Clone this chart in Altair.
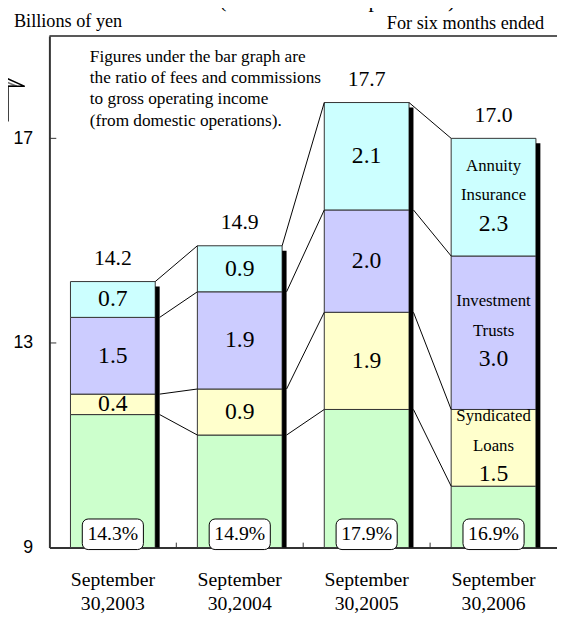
import altair as alt
import pandas as pd

# ---------------- data ----------------
date_line1 = ["September", "September", "September", "September"]
date_line2 = ["30,2003", "30,2004", "30,2005", "30,2006"]
segment_names = ["Other fees", "Syndicated Loans", "Investment Trusts", "Annuity Insurance"]
other_fees = [11.6, 11.2, 11.7, 10.2]
syndicated_loans = [0.4, 0.9, 1.9, 1.5]
investment_trusts = [1.5, 1.9, 2.0, 3.0]
annuity_insurance = [0.7, 0.9, 2.1, 2.3]
totals = [14.2, 14.9, 17.7, 17.0]
fee_ratios = ["14.3%", "14.9%", "17.9%", "16.9%"]
segment_colors = ["#CCFFCC", "#FFFFCC", "#CCCCFF", "#CCFFFF"]
name_line1 = ["", "Syndicated", "Investment", "Annuity"]
name_line2 = ["", "Loans", "Trusts", "Insurance"]
y_ticks = [9, 13, 17]
note_lines = [
    "Figures under the bar graph are",
    "the ratio of fees and commissions",
    "to gross operating income",
    "\u00a0(from domestic operations).",
]
unit_label = "Billions of yen"
period_label = "For six months ended"
top_title = "(from domestic operations)"

# ---------------- layout ----------------
W, H = 515, 519
Y_MIN, Y_MAX = 9, 19
X_MAX = 4
ux = W / X_MAX
uy = H / (Y_MAX - Y_MIN)
BAR_HALF = 43 / ux
SHADOW_W = 4.5 / ux
SHADOW_DROP = 5 / uy
SERIF = "Liberation Serif"
SANS = "Liberation Sans"

xs = alt.Scale(domain=[0, X_MAX], nice=False, zero=False)
ys = alt.Scale(domain=[Y_MIN, Y_MAX], nice=False, zero=False)
x_axis = alt.Axis(labels=False, ticks=False, tickSize=0, grid=False, title=None,
                  domainColor="#333333", domainWidth=2)
y_axis = alt.Axis(values=y_ticks, ticks=False, tickSize=0, grid=False, title=None,
                  labelPadding=17, labelFont=SANS, labelFontSize=18, labelColor="black",
                  domainColor="#333333", domainWidth=2)


def X(f):
    return alt.X(f, type="quantitative", scale=xs, axis=x_axis)


def Y(f):
    return alt.Y(f, type="quantitative", scale=ys, axis=y_axis)


series = [other_fees, syndicated_loans, investment_trusts, annuity_insurance]
n = len(totals)

seg_rows, lab_rows, tops = [], [], []
for i in range(n):
    c = i + 0.5
    base = 0.0
    bounds = []
    for j, s in enumerate(series):
        lo, hi = base, base + s[i]
        base = hi
        bounds.append(hi)
        seg_rows.append(dict(x=c - BAR_HALF, x2=c + BAR_HALF, y=max(lo, Y_MIN), y2=hi,
                             seg=segment_names[j]))
        if j > 0:
            lab_rows.append(dict(c=c, mid=(max(lo, Y_MIN) + hi) / 2, val=f"{s[i]:.1f}",
                                 n1=name_line1[j], n2=name_line2[j], last=(i == n - 1)))
    tops.append(bounds)
seg_df = pd.DataFrame(seg_rows)
lab_df = pd.DataFrame(lab_rows)
lab_plain = lab_df[~lab_df["last"]]
lab_last = lab_df[lab_df["last"]]

cat_df = pd.DataFrame(dict(c=[i + 0.5 for i in range(n)], total=totals,
                           totlab=[f"{t:.1f}" for t in totals], ratio=fee_ratios,
                           l1=date_line1, l2=date_line2))
cat_df["sx"] = cat_df["c"] + BAR_HALF
cat_df["sx2"] = cat_df["c"] + BAR_HALF + SHADOW_W
cat_df["sy"] = cat_df["total"] - SHADOW_DROP
cat_df["sy2"] = Y_MIN
cat_df["bx"] = cat_df["c"] - 31 / ux
cat_df["bx2"] = cat_df["c"] + 31 / ux
cat_df["by"] = Y_MIN - 2 / uy
cat_df["by2"] = Y_MIN + 29 / uy
cat_df["ty"] = Y_MIN + 14 / uy

con_rows = []
for i in range(n - 1):
    for j in range(len(series)):
        start = (i + 0.5 + BAR_HALF) + (0 if j == len(series) - 1 else SHADOW_W)
        con_rows.append(dict(x=start, x2=i + 1.5 - BAR_HALF, y=tops[i][j], y2=tops[i + 1][j]))
con_df = pd.DataFrame(con_rows)

ytick_df = pd.DataFrame(dict(y=[v for v in y_ticks if v > Y_MIN], x=0.0, x2=7 / ux))
xtick_df = pd.DataFrame(dict(x=list(range(1, n)), y=Y_MIN, y2=Y_MIN + 5 / uy))
frame_df = pd.DataFrame(dict(x=[0], x2=[X_MAX], y=[Y_MAX]))

# decorative outline arrow at the left edge (pixel offsets from plot origin)
arrow_px = [(-50, 40), (-25, 51), (-42, 51), (-42, 86), (-50, 86)]
arrow_df = pd.DataFrame(dict(x=[p[0] / ux for p in arrow_px],
                             y=[Y_MAX - p[1] / uy for p in arrow_px],
                             o=list(range(len(arrow_px)))))
arrow2_px = [(-50, 44), (-33, 51), (-46, 51), (-46, 83), (-50, 83)]
arrow2_df = pd.DataFrame(dict(x=[p[0] / ux for p in arrow2_px],
                              y=[Y_MAX - p[1] / uy for p in arrow2_px],
                              o=list(range(len(arrow2_px)))))

one = pd.DataFrame(dict(k=[0]))

# ---------------- layers ----------------
bars = alt.Chart(seg_df).mark_rect(stroke="#333333", strokeWidth=1).encode(
    x=X("x"), x2="x2", y=Y("y"), y2="y2",
    fill=alt.Fill("seg:N", scale=alt.Scale(domain=segment_names, range=segment_colors), legend=None),
)

shadows = alt.Chart(cat_df).mark_rect(color="black").encode(
    x=X("sx"), x2="sx2", y=Y("sy"), y2="sy2")

connectors = alt.Chart(con_df).mark_rule(color="black", strokeWidth=1).encode(
    x=X("x"), x2="x2", y=Y("y"), y2="y2")

yticks = alt.Chart(ytick_df).mark_rule(color="#333333", strokeWidth=1).encode(
    x=X("x"), x2="x2", y=Y("y"))
xticks = alt.Chart(xtick_df).mark_rule(color="#333333", strokeWidth=1).encode(
    x=X("x"), y=Y("y"), y2="y2")
frame = alt.Chart(frame_df).mark_rule(color="#222222", strokeWidth=1.5).encode(
    x=X("x"), x2="x2", y=Y("y"))

val_plain = alt.Chart(lab_plain).mark_text(font=SERIF, fontSize=24, color="black",
                                           baseline="middle").encode(
    x=X("c"), y=Y("mid"), text="val:N")
val_last = alt.Chart(lab_last).mark_text(font=SERIF, fontSize=24, color="black",
                                         baseline="middle", dy=27).encode(
    x=X("c"), y=Y("mid"), text="val:N")
name1 = alt.Chart(lab_last).mark_text(font=SERIF, fontSize=17, color="black",
                                      baseline="middle", dy=-32).encode(
    x=X("c"), y=Y("mid"), text="n1:N")
name2 = alt.Chart(lab_last).mark_text(font=SERIF, fontSize=17, color="black",
                                      baseline="middle", dy=-2).encode(
    x=X("c"), y=Y("mid"), text="n2:N")

tot_lab = alt.Chart(cat_df).mark_text(font=SERIF, fontSize=22, color="black",
                                      baseline="middle", dy=-24).encode(
    x=X("c"), y=Y("total"), text="totlab:N")

ratio_box = alt.Chart(cat_df).mark_rect(fill="white", stroke="black", strokeWidth=1,
                                        cornerRadius=6).encode(
    x=X("bx"), x2="bx2", y=Y("by"), y2="by2")
ratio_txt = alt.Chart(cat_df).mark_text(font=SERIF, fontSize=20, color="black",
                                        baseline="middle").encode(
    x=X("c"), y=Y("ty"), text="ratio:N")

date1 = alt.Chart(cat_df).mark_text(font=SERIF, fontSize=20, color="black",
                                    baseline="middle").encode(
    x=X("c"), y=alt.value(H + 33), text="l1:N")
date2 = alt.Chart(cat_df).mark_text(font=SERIF, fontSize=20, color="black",
                                    baseline="middle").encode(
    x=X("c"), y=alt.value(H + 57), text="l2:N")

note = alt.Chart(one).mark_text(font=SERIF, fontSize=17.5, color="black", align="left",
                                baseline="middle", lineHeight=21.7, text=note_lines).encode(
    x=alt.value(41), y=alt.value(21))

unit_txt = alt.Chart(one).mark_text(font=SERIF, fontSize=18.5, color="black", align="left",
                                    baseline="middle", text=unit_label).encode(
    x=alt.value(-36), y=alt.value(-15))
period_txt = alt.Chart(one).mark_text(font=SERIF, fontSize=18.5, color="black", align="right",
                                      baseline="middle", text=period_label).encode(
    x=alt.value(502), y=alt.value(-13))
title_txt = alt.Chart(one).mark_text(font=SERIF, fontSize=22, color="black", align="center",
                                     baseline="alphabetic", text=top_title).encode(
    x=alt.value(292), y=alt.value(-29))

arrow1 = alt.Chart(arrow_df).mark_line(color="black", strokeWidth=1.5, clip=False).encode(
    x=X("x"), y=Y("y"), order="o:Q")
arrow2 = alt.Chart(arrow2_df).mark_line(color="#777777", strokeWidth=1.5, clip=False).encode(
    x=X("x"), y=Y("y"), order="o:Q")

chart = alt.layer(
    bars, shadows, connectors, yticks, xticks, frame,
    val_plain, val_last, name1, name2, tot_lab,
    ratio_box, ratio_txt, date1, date2, note, unit_txt, period_txt, title_txt,
    arrow2, arrow1,
).properties(
    width=W, height=H,
    autosize=alt.AutoSizeParams(type="none"),
    padding={"left": 42, "top": 24, "right": 0, "bottom": 67},
    background="white",
).configure_view(stroke=None)

chart.save("out.html", embed_options={"renderer": "svg", "actions": False})
